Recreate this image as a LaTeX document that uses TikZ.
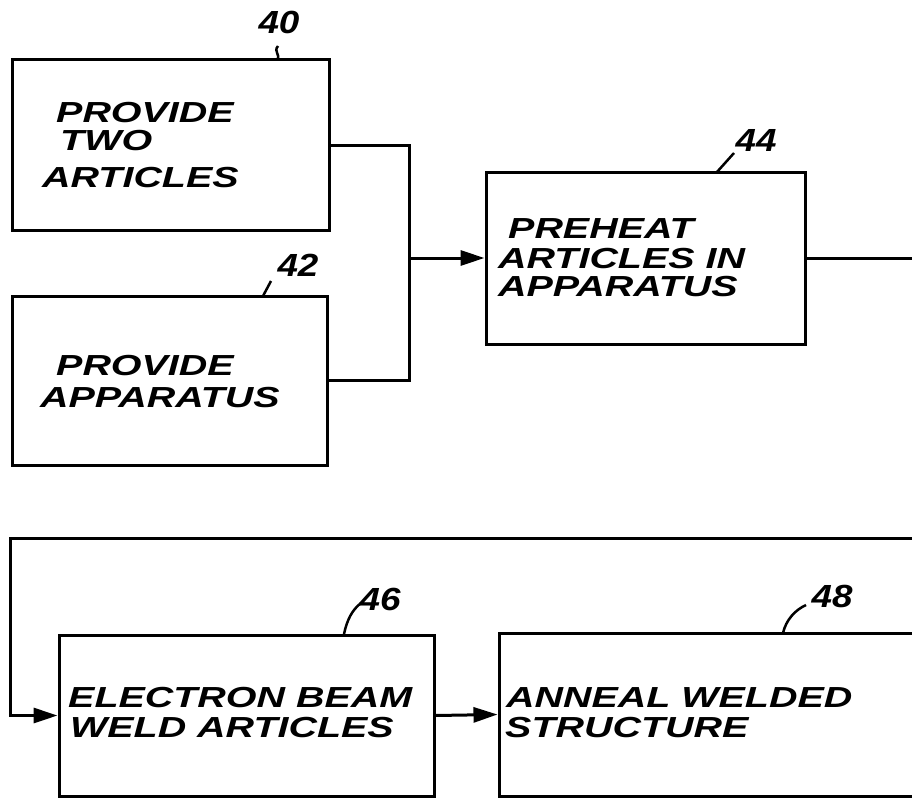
\documentclass[tikz,border=0pt]{standalone}
\usepackage{fontspec}
\usepackage{graphicx}
\setmainfont{Liberation Sans}
\usetikzlibrary{arrows.meta}
\newcommand\hwtxt[1]{\scalebox{1.36}[1]{\bfseries\itshape #1}}
\newcommand\hwnum[1]{\scalebox{1.15}[1]{\bfseries\itshape #1}}
\tikzset{
  box/.style={draw, line width=3pt, inner sep=0pt, rectangle},
  line/.style={line width=3pt},
  flow/.style={line width=3pt, -{Triangle[length=24pt,width=15pt]}},
  txt/.style={anchor=base west, inner sep=0pt, font=\fontsize{29}{30}\selectfont},
  num/.style={inner sep=0pt, font=\fontsize{32}{32}\selectfont},
  leader/.style={line width=2.5pt}
}
\begin{document}
\begin{tikzpicture}[x=1pt,y=-1pt]
\useasboundingbox (0,0) rectangle (912,797);
\clip (0,0) rectangle (912,797);
% boxes
\node[box, minimum width=317pt, minimum height=170pt] (b40) at (170.5,145) {};
\node[box, minimum width=315pt, minimum height=169pt] (b42) at (169.5,380.5) {};
\node[box, minimum width=319pt, minimum height=172pt] (b44) at (645.5,258) {};
\node[box, minimum width=375pt, minimum height=161pt] (b46) at (246.5,715.5) {};
\node[box, minimum width=501pt, minimum height=163pt] (b48) at (749.5,714.5) {};
% texts
\node[txt] (t40a) at (56,122) {\hwtxt{PROVIDE}};
\node[txt] (t40b) at (60,150) {\hwtxt{TWO}};
\node[txt] (t40c) at (42,187) {\hwtxt{ARTICLES}};
\node[txt] (t42a) at (56,375) {\hwtxt{PROVIDE}};
\node[txt] (t42b) at (40,407) {\hwtxt{APPARATUS}};
\node[txt] (t44a) at (508,238) {\hwtxt{PREHEAT}};
\node[txt] (t44b) at (498,268) {\hwtxt{ARTICLES IN}};
\node[txt] (t44c) at (498,296) {\hwtxt{APPARATUS}};
\node[txt] (t46a) at (68,707) {\hwtxt{ELECTRON BEAM}};
\node[txt] (t46b) at (70,737) {\hwtxt{WELD ARTICLES}};
\node[txt] (t48a) at (506,707) {\hwtxt{ANNEAL WELDED}};
\node[txt] (t48b) at (505,737) {\hwtxt{STRUCTURE}};
% reference numerals
\node[num] (n40) at (279,22) {\hwnum{40}};
\node[num] (n42) at (298,265) {\hwnum{42}};
\node[num] (n44) at (756,140) {\hwnum{44}};
\node[num] (n46) at (380,599) {\hwnum{46}};
\node[num] (n48) at (832,596) {\hwnum{48}};
% leaders
\coordinate (l40) at (277,60);
\coordinate (l42) at (263,296);
\coordinate (l44) at (717,172);
\coordinate (l46) at (344,634);
\coordinate (l48) at (783,633);
\draw[leader] (l40) .. controls (281,54) and (273,52) .. (278,46);
\draw[leader] (l42) -- (271,281);
\draw[leader] (l44) -- (734,153);
\draw[leader] (l46) .. controls (347,620) and (352,610) .. (361,603);
\draw[leader] (l48) .. controls (786,620) and (795,610) .. (806,605);
% connectors
\coordinate (j) at (409,258);
\draw[line] (b40.east) -| (j) |- (b42.east);
\draw[flow] (j) -- (b44.west);
\draw[flow] (b44.east) -- (960,258) -- (960,538) -- (10,538) |- (b46.west);
\draw[flow] (b46.east) -- (b48.west);
\end{tikzpicture}
\end{document}
